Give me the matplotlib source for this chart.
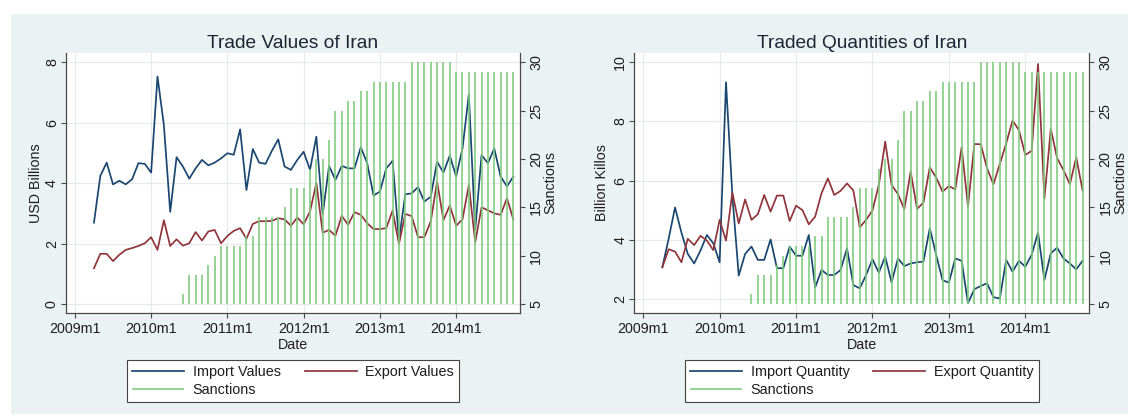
import numpy as np
import pandas as pd
import matplotlib
matplotlib.use("Agg")
import matplotlib.pyplot as plt
from matplotlib.patches import Rectangle

plt.rcParams['font.family'] = ['Liberation Sans', 'DejaVu Sans']

# monthly data, 2009m4 .. 2014m10
base_month = pd.Period('2009-01', freq='M')
months = pd.period_range('2009-04', '2014-10', freq='M')
sanction_months = pd.period_range('2010-06', '2014-10', freq='M')

import_values = [2.69, 4.24, 4.68, 3.96, 4.08, 3.96, 4.13, 4.66, 4.64,
                 4.35, 7.53, 5.93, 3.05, 4.86, 4.55, 4.15, 4.49, 4.77, 4.59, 4.68, 4.82,
                 4.99, 4.94, 5.78, 3.77, 5.13, 4.68, 4.64, 5.07, 5.45, 4.55, 4.44, 4.77,
                 5.04, 4.44, 5.54, 2.97, 4.57, 4.11, 4.57, 4.49, 4.49, 5.19, 4.66, 3.59,
                 3.72, 4.49, 4.74, 2.12, 3.63, 3.66, 3.87, 3.39, 3.55, 4.71, 4.35, 4.91,
                 4.22, 5.15, 6.94, 2.45, 4.93, 4.66, 5.15, 4.22, 3.89, 4.22]
export_values = [1.18, 1.66, 1.66, 1.42, 1.63, 1.79, 1.85, 1.92, 2.01,
                 2.21, 1.79, 2.77, 1.92, 2.14, 1.93, 2.01, 2.38, 2.10, 2.40, 2.45, 2.01,
                 2.25, 2.42, 2.51, 2.16, 2.65, 2.74, 2.74, 2.75, 2.84, 2.80, 2.59, 2.86,
                 2.64, 3.06, 4.00, 2.36, 2.45, 2.26, 2.92, 2.62, 3.04, 2.95, 2.67, 2.48,
                 2.48, 2.51, 3.09, 1.99, 2.98, 2.91, 2.21, 2.21, 2.73, 4.05, 2.78, 3.26,
                 2.59, 2.80, 3.94, 2.04, 3.20, 3.10, 3.00, 2.95, 3.50, 2.80]
import_quantity = [3.08, 4.05, 5.10, 4.25, 3.53, 3.21, 3.65, 4.17, 3.89,
                   3.25, 9.32, 5.50, 2.80, 3.53, 3.78, 3.33, 3.33, 4.02, 3.05, 3.05, 3.78,
                   3.47, 3.47, 4.17, 2.40, 2.99, 2.82, 2.82, 2.99, 3.72, 2.48, 2.37, 2.82,
                   3.35, 2.90, 3.44, 2.57, 3.38, 3.12, 3.21, 3.25, 3.27, 4.40, 3.50, 2.65,
                   2.56, 3.38, 3.30, 1.87, 2.34, 2.45, 2.54, 2.07, 2.03, 3.33, 2.93, 3.30,
                   3.10, 3.50, 4.25, 2.65, 3.55, 3.74, 3.38, 3.21, 3.01, 3.30]
export_quantity = [3.08, 3.69, 3.61, 3.25, 4.04, 3.83, 4.14, 3.98, 3.66,
                   4.68, 3.98, 5.60, 4.56, 5.37, 4.68, 4.87, 5.52, 4.96, 5.50, 5.50, 4.64,
                   5.16, 5.01, 4.53, 4.79, 5.58, 6.08, 5.52, 5.66, 5.91, 5.67, 4.43, 4.68,
                   5.00, 5.86, 7.32, 5.86, 5.55, 5.04, 6.31, 5.05, 5.26, 6.45, 6.11, 5.63,
                   5.82, 5.71, 7.13, 5.13, 7.24, 7.23, 6.42, 5.88, 6.57, 7.26, 8.03, 7.71,
                   6.87, 7.01, 9.94, 5.39, 7.75, 6.76, 6.36, 5.88, 6.79, 5.67]
sanctions = [6, 8, 8, 8, 9, 10, 11, 11, 11, 11, 12, 12, 14, 14, 14, 14, 15,
             17, 17, 17, 19, 20, 20, 22, 25, 25, 26, 26, 27, 27,
             28, 28, 28, 28, 28, 28, 30, 30, 30, 30, 30, 30, 30,
             29, 29, 29, 29, 29, 29, 29, 29, 29, 29]

tick_labels = ['2009m1', '2010m1', '2011m1', '2012m1', '2013m1', '2014m1']

x = np.array([(p - base_month).n for p in months])
xs = np.array([(p - base_month).n for p in sanction_months])
xticks = [(pd.Period(t.replace('m', '-'), freq='M') - base_month).n for t in tick_labels]

NAVY = '#1A476F'
MAROON = '#90353B'
GREEN = '#7CCB7C'
AXC = '#4a4a4a'
TXT = '#1e1e1e'
FS = 10.3


def panel(rect, title, ylabel, imp, exp, imp_lab, exp_lab, yticks, ylim, ylab_x):
    ax = fig.add_axes(rect)
    ax.set_facecolor('white')
    l1, = ax.plot(x, imp, color=NAVY, lw=1.25)
    l2, = ax.plot(x, exp, color=MAROON, lw=1.25)
    ax.set_xlim(-1.4, 70.05)
    ax.set_ylim(*ylim)
    ax.set_xticks(xticks, tick_labels, fontsize=FS, color=TXT)
    ax.set_yticks(yticks, [str(v) for v in yticks], fontsize=FS, color=TXT,
                  rotation=90, va='center')
    ax.grid(True, color='#E6EAEC', lw=0.8)
    ax.set_axisbelow(True)
    for s in ['top', 'right']:
        ax.spines[s].set_visible(False)
    for s in ['left', 'bottom']:
        ax.spines[s].set_color(AXC)
        ax.spines[s].set_linewidth(0.9)
    ax.tick_params(axis='x', direction='out', length=3.6, width=0.8, color=AXC, pad=3)
    ax.tick_params(axis='y', direction='out', length=3.6, width=0.8, color=AXC, pad=1.5)
    ax.set_title(title, fontsize=13.8, color='#1c2633', pad=4)
    ax.set_xlabel('Date', fontsize=FS, color=TXT)
    ax.xaxis.set_label_coords(0.5, -0.097)
    ax.set_ylabel(ylabel, fontsize=FS, color=TXT)
    ax.yaxis.set_label_coords(ylab_x, 0.5)

    ax2 = ax.twinx()
    bars = ax2.vlines(xs, 5, sanctions, color=GREEN, lw=1.15)
    ax2.set_ylim(4.1, 30.93)
    ax2.set_yticks([5, 10, 15, 20, 25, 30], ['5', '10', '15', '20', '25', '30'],
                   fontsize=FS, color=TXT, rotation=90, va='center')
    for s in ['top', 'left', 'bottom']:
        ax2.spines[s].set_visible(False)
    ax2.spines['right'].set_color(AXC)
    ax2.spines['right'].set_linewidth(0.9)
    ax2.tick_params(axis='y', direction='out', length=3.6, width=0.8, color=AXC, pad=3)
    ax2.set_ylabel('Sanctions', fontsize=FS, color=TXT)
    ax2.yaxis.set_label_coords(1.052, 0.5)

    cx = rect[0] + rect[2] / 2
    leg = fig.legend([l1, bars, l2], [imp_lab, 'Sanctions', exp_lab], ncol=2,
                     loc='upper center', bbox_to_anchor=(cx, 1 - 360 / 416),
                     bbox_transform=fig.transFigure, fontsize=10.4,
                     handlelength=3.6, handletextpad=0.6, columnspacing=1.65,
                     borderpad=0.35, labelspacing=0.3, fancybox=False,
                     framealpha=1, borderaxespad=0)
    leg.get_frame().set_edgecolor('#444444')
    leg.get_frame().set_linewidth(0.8)
    for t in leg.get_texts():
        t.set_color(TXT)
    return ax


fig = plt.figure(figsize=(11.3, 4.16), dpi=100)
fig.patches.append(Rectangle((11 / 1130, 0.004), 1117 / 1130, 400 / 416,
                             transform=fig.transFigure, facecolor='#EAF2F3',
                             edgecolor='none', zorder=-10))

panel([66 / 1130, 1 - 312.7 / 416, 454 / 1130, 259.4 / 416],
      'Trade Values of Iran', 'USD Billions', import_values, export_values,
      'Import Values', 'Export Values', [0, 2, 4, 6, 8], (-0.29, 8.3), -0.051)
panel([634.3 / 1130, 1 - 312.7 / 416, 455 / 1130, 259.4 / 416],
      'Traded Quantities of Iran', 'Billion Killos', import_quantity, export_quantity,
      'Import Quantity', 'Export Quantity', [2, 4, 6, 8, 10], (1.548, 10.3), -0.056)

fig.savefig('out.png', dpi=100)
